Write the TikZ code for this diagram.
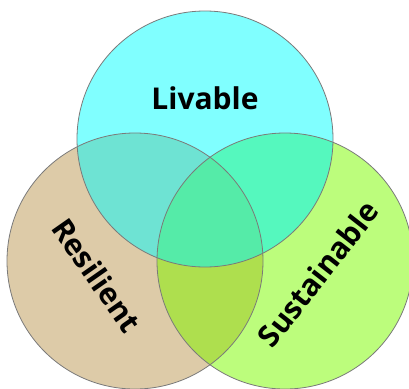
\documentclass[tikz,border=0pt]{standalone}
\usepackage{fontspec}
\setmainfont{Open Sans}
\definecolor{ctop}{HTML}{80FFFF}
\definecolor{cleft}{HTML}{DDCBA8}
\definecolor{cright}{HTML}{BCFD7C}
\definecolor{ctl}{HTML}{6EE3D3}
\definecolor{ctr}{HTML}{55F8BE}
\definecolor{clr}{HTML}{AEDF4E}
\definecolor{call}{HTML}{55EBA8}
\definecolor{cedge}{HTML}{7A7A7A}
\tikzset{
  lbl/.style={font=\bfseries\fontsize{30}{32}\selectfont, text=black, inner sep=0pt},
  edge/.style={draw=cedge, line width=0.8pt}
}
\begin{document}
\begin{tikzpicture}[x=1pt,y=-1pt]
\useasboundingbox (0,0) rectangle (409,388);
\fill[white] (0,0) rectangle (409,388);
\coordinate (T) at (205,139);
\coordinate (L) at (135,261);
\coordinate (R) at (285,261);
\def\rr{128pt}
\fill[ctop] (T) circle[radius=\rr];
\fill[cleft] (L) circle[radius=\rr];
\fill[cright] (R) circle[radius=\rr];
\begin{scope}
  \clip (T) circle[radius=\rr];
  \fill[ctl] (L) circle[radius=\rr];
  \fill[ctr] (R) circle[radius=\rr];
\end{scope}
\begin{scope}
  \clip (L) circle[radius=\rr];
  \fill[clr] (R) circle[radius=\rr];
\end{scope}
\begin{scope}
  \clip (T) circle[radius=\rr];
  \clip (L) circle[radius=\rr];
  \fill[call] (R) circle[radius=\rr];
\end{scope}
\draw[edge] (T) circle[radius=\rr];
\draw[edge] (L) circle[radius=\rr];
\draw[edge] (R) circle[radius=\rr];
\node[lbl] (liv) at (205,98) {Livable};
\node[lbl, rotate=-55] (res) at (97,275) {Resilient};
\node[lbl, rotate=52] (sus) at (318,274) {Sustainable};
\end{tikzpicture}
\end{document}
